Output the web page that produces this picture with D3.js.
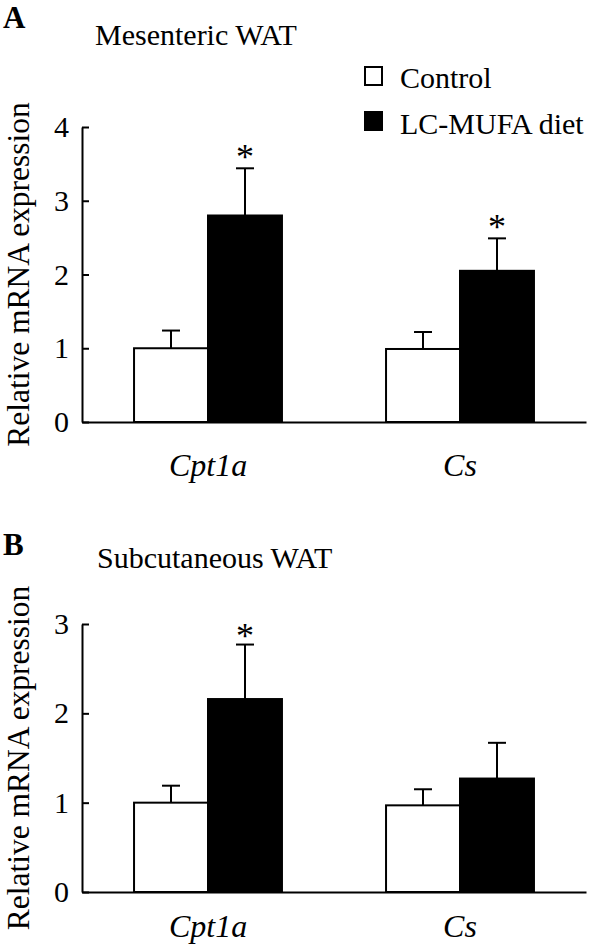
<!DOCTYPE html>
<html>
<head>
<meta charset="utf-8">
<script src="https://cdn.jsdelivr.net/npm/d3@7"></script>
<style>
  html, body { margin: 0; padding: 0; background: #fff; }
  svg { display: block; }
  text { font-family: "Liberation Serif", "Times New Roman", serif; fill: #000; }
</style>
</head>
<body>
<svg id="chart" width="600" height="946"></svg>
<script>
// ---- data ----
const categories = ["Cpt1a", "Cs"];
const seriesNames = ["Control", "LC-MUFA diet"];

// Panel A: Mesenteric WAT
const mesControl = [1.00, 0.99];
const mesControlErr = [0.24, 0.23];
const mesLC = [2.80, 2.05];
const mesLCErr = [0.64, 0.44];
const mesSig = [true, true];
const mesTicks = [0, 1, 2, 3, 4];

// Panel B: Subcutaneous WAT
const subControl = [1.00, 0.97];
const subControlErr = [0.19, 0.18];
const subLC = [2.16, 1.27];
const subLCErr = [0.61, 0.40];
const subSig = [true, false];
const subTicks = [0, 1, 2, 3];

const svg = d3.select("#chart");
const fills = ["#fff", "#000"];

function panel(opts) {
  const g = svg.append("g");
  const x = d3.scaleBand().domain(categories).range([82, 586])
    .paddingInner(0.413).paddingOuter(0.2065);
  const xs = d3.scaleBand().domain(seriesNames).range([0, x.bandwidth()]).padding(0);
  const y = d3.scaleLinear().domain([0, opts.max]).range([opts.y0, opts.y1]);

  // letter + title
  g.append("text").attr("x", 3).attr("y", opts.letterY)
    .attr("font-size", 31).attr("font-weight", "bold").text(opts.letter);
  g.append("text").attr("x", opts.titleX).attr("y", opts.titleY)
    .attr("font-size", 30).text(opts.title);

  const rows = [];
  categories.forEach((c, i) => {
    rows.push({cat: c, s: seriesNames[0], v: opts.control[i], e: opts.controlErr[i], sig: false, k: 0});
    rows.push({cat: c, s: seriesNames[1], v: opts.lc[i], e: opts.lcErr[i], sig: opts.sig[i], k: 1});
  });

  // error bars
  const eb = g.append("g").attr("stroke", "#000").attr("stroke-width", 2);
  rows.forEach(d => {
    const cx = x(d.cat) + xs(d.s) + xs.bandwidth() / 2;
    eb.append("line").attr("x1", cx).attr("x2", cx).attr("y1", y(d.v)).attr("y2", y(d.v + d.e));
    eb.append("line").attr("x1", cx - 9).attr("x2", cx + 9).attr("y1", y(d.v + d.e)).attr("y2", y(d.v + d.e));
  });

  g.append("g").selectAll("rect").data(rows).join("rect")
    .attr("x", d => x(d.cat) + xs(d.s))
    .attr("width", xs.bandwidth())
    .attr("y", d => y(d.v))
    .attr("height", d => y(0) - y(d.v))
    .attr("fill", d => fills[d.k])
    .attr("stroke", "#000").attr("stroke-width", 2);

  // asterisks
  g.append("g").selectAll("text").data(rows.filter(d => d.sig)).join("text")
    .attr("x", d => x(d.cat) + xs(d.s) + xs.bandwidth() / 2)
    .attr("y", d => y(d.v + d.e) + opts.starOff)
    .attr("text-anchor", "middle").attr("font-size", 36).text("*");

  // y axis
  const ya = g.append("g").attr("transform", `translate(82,0)`)
    .call(d3.axisLeft(y).tickValues(opts.ticks).tickFormat(d3.format("d"))
      .tickSizeInner(-7).tickSizeOuter(0).tickPadding(13));
  ya.selectAll("path, line").attr("stroke", "#000").attr("stroke-width", 2);
  ya.selectAll("text").attr("font-size", 30)
    .attr("font-family", "Liberation Serif, Times New Roman, serif").attr("fill", "#000");

  // x axis
  const xa = g.append("g").attr("transform", `translate(0,${opts.y0})`)
    .call(d3.axisBottom(x).tickSize(0).tickPadding(opts.catPad));
  xa.selectAll("path").attr("stroke", "#000").attr("stroke-width", 2);
  xa.selectAll("text").attr("font-size", 32).attr("font-style", "italic")
    .attr("font-family", "Liberation Serif, Times New Roman, serif").attr("fill", "#000");

  // y label
  g.append("text")
    .attr("transform", `translate(29,${(opts.y0 + opts.y1) / 2}) rotate(-90)`)
    .attr("text-anchor", "middle").attr("font-size", 31.5)
    .text("Relative mRNA expression");
}

panel({
  letter: "A", letterY: 28, title: "Mesenteric WAT", titleX: 95, titleY: 45,
  max: 4, y0: 422, y1: 127, ticks: mesTicks,
  control: mesControl, controlErr: mesControlErr, lc: mesLC, lcErr: mesLCErr, sig: mesSig,
  starOff: 1, catPad: 31
});
panel({
  letter: "B", letterY: 555, title: "Subcutaneous WAT", titleX: 97, titleY: 568,
  max: 3, y0: 892, y1: 624, ticks: subTicks,
  control: subControl, controlErr: subControlErr, lc: subLC, lcErr: subLCErr, sig: subSig,
  starOff: 3, catPad: 22
});

// legend
const leg = svg.append("g");
seriesNames.forEach((s, i) => {
  leg.append("rect").attr("x", 365).attr("y", 67 + i * 45).attr("width", 17).attr("height", 18)
    .attr("fill", fills[i]).attr("stroke", "#000").attr("stroke-width", 2);
  leg.append("text").attr("x", 400).attr("y", 88 + i * 46).attr("font-size", 30).text(s);
});
</script>
</body>
</html>
